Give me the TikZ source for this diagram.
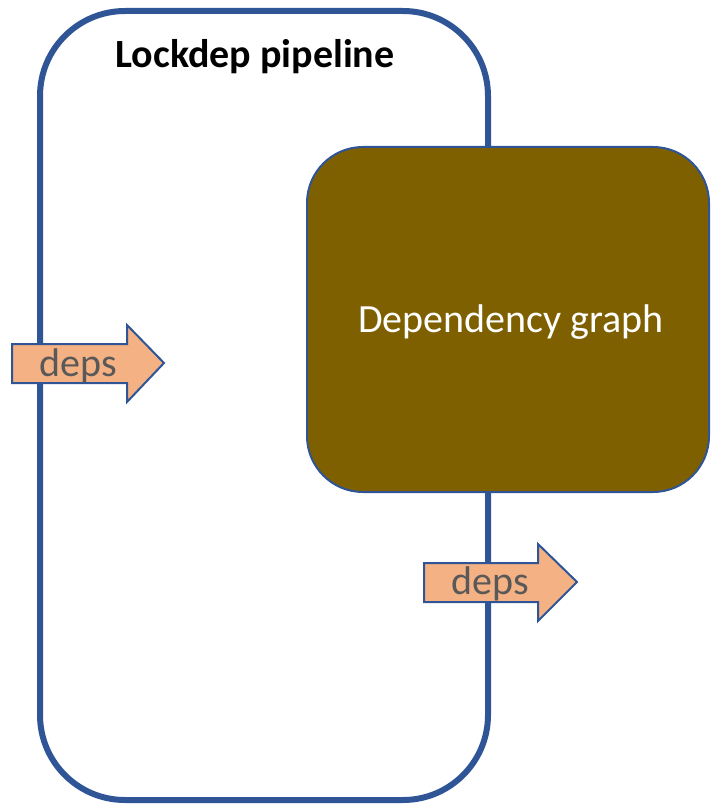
\documentclass[tikz,border=0pt]{standalone}
\usepackage{fontspec}
\setmainfont{Carlito}
\definecolor{frameblue}{HTML}{2F5597}
\definecolor{graphbrown}{HTML}{7F6000}
\definecolor{depsorange}{HTML}{F4B183}
\definecolor{depsgray}{HTML}{595959}
\tikzset{
  pipebox/.style={draw=frameblue, line width=6pt, rounded corners=85pt},
  graphbox/.style={draw=frameblue, line width=2pt, fill=graphbrown, rounded corners=56pt},
  arrowshape/.style={draw=frameblue, line width=2pt, fill=depsorange, line join=miter},
  depstext/.style={text=depsgray, font=\fontsize{40}{48}\selectfont, inner sep=0pt},
}
\begin{document}
\begin{tikzpicture}[x=1pt,y=-1pt]
\useasboundingbox (0,0) rectangle (711,805);
% pipeline frame
\draw[pipebox] (40,11) rectangle (488,800);
\node[font=\bfseries\fontsize{40}{48}\selectfont, inner sep=0pt] (title) at (255,57) {Lockdep pipeline};
% dependency graph
\draw[graphbox] (307,147) rectangle (709,492);
\node[text=white, font=\fontsize{40}{48}\selectfont, inner sep=0pt] (graph) at (511,322) {Dependency graph};
% input arrow
\draw[arrowshape] (12,344) -- (127,344) -- (127,325) -- (164,363) -- (127,402) -- (127,383) -- (12,383) -- cycle;
\node[depstext] (depsin) at (78,366) {deps};
% output arrow
\draw[arrowshape] (424,563) -- (538,563) -- (538,544) -- (577,582) -- (538,621) -- (538,602) -- (424,602) -- cycle;
\node[depstext] (depsout) at (490,584) {deps};
\end{tikzpicture}
\end{document}
